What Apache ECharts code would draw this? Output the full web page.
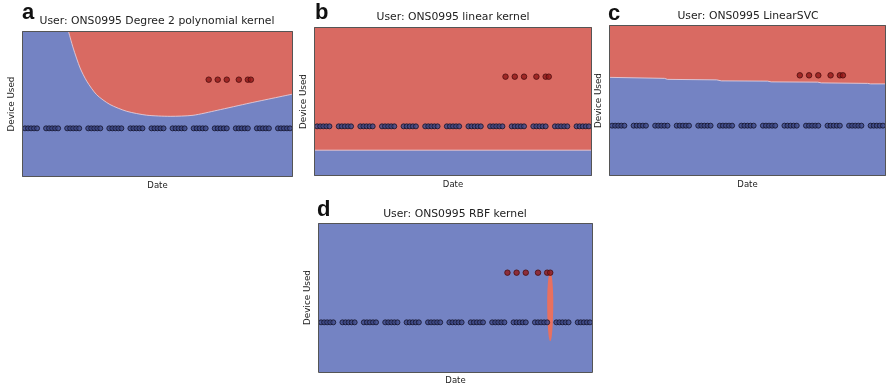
<!DOCTYPE html>
<html>
<head>
<meta charset="utf-8">
<script src="https://cdn.jsdelivr.net/npm/echarts@6/dist/echarts.min.js"></script>
<style>
  html, body { margin: 0; padding: 0; background: #fff; }
  #chart { width: 886px; height: 386px; }
</style>
</head>
<body>
<div id="chart"></div>
<script>
// x = day index, y = device used (0 = usual device, 1 = other device)
const usualDays = [
  1, 2, 3, 4, 5, 8, 9, 10, 11, 12, 15, 16, 17, 18, 19, 22, 23, 24, 25, 26,
  29, 30, 31, 32, 33, 36, 37, 38, 39, 40, 43, 44, 45, 46, 47, 50, 51, 52, 53, 54,
  57, 58, 59, 60, 61, 64, 65, 66, 67, 68, 71, 72, 73, 74, 75, 78, 79, 80, 81, 82,
  85, 86, 87, 88, 89
];
const otherDays = [62, 65, 68, 72, 75, 76];

// decision boundaries (red region lies above)
const polyBoundary = [
  [15.4, 2], [17, 1.65], [19.3, 1.24], [21.5, 0.97], [24.8, 0.69], [29.2, 0.49],
  [34.8, 0.35], [41.4, 0.27], [49.2, 0.247], [56.8, 0.268], [64.8, 0.37],
  [75.7, 0.52], [90, 0.705]
];
const linearBoundary = [[0, -0.48], [90, -0.48]];
const svcBoundary = [
  [0, 0.96], [18, 0.94], [19, 0.92], [35, 0.91], [36.5, 0.89], [51.5, 0.885],
  [52.7, 0.87], [67.8, 0.865], [69, 0.85], [84, 0.84], [85, 0.83], [90, 0.83]
];
// rbf: [day, yTop, yBottom, halfWidthDays]
const rbfRegion = [[76, 1.0, -0.38, 1.0]];

const letters = ['a', 'b', 'c', 'd'];
const titles = [
  'User: ONS0995 Degree 2 polynomial kernel',
  'User: ONS0995 linear kernel',
  'User: ONS0995 LinearSVC',
  'User: ONS0995 RBF kernel'
];

const BLUE = '#7483c3';
const RED = '#d96a62';

const panels = [
  { left: 22, top: 31, width: 271, height: 146, titleX: 157, titleY: 21, letterX: 22, letterY: 13 },
  { left: 314, top: 27, width: 278, height: 149, titleX: 453, titleY: 17, letterX: 315, letterY: 13 },
  { left: 609, top: 25, width: 277, height: 151, titleX: 748, titleY: 16, letterX: 608, letterY: 14 },
  { left: 318, top: 223, width: 275, height: 150, titleX: 455, titleY: 214, letterX: 317, letterY: 210 }
];
const boundaries = [polyBoundary, linearBoundary, svcBoundary, null];

const usualPts = usualDays.map(d => [d, 0]);
const otherPts = otherDays.map(d => [d, 1]);

const chart = echarts.init(document.getElementById('chart'));

const grid = [], xAxis = [], yAxis = [], series = [], graphic = [];

panels.forEach((p, i) => {
  grid.push({
    left: p.left, top: p.top, width: p.width, height: p.height,
    show: true, backgroundColor: BLUE, borderWidth: 0
  });
  xAxis.push({
    gridIndex: i, type: 'value', min: 0, max: 90,
    name: 'Date', nameLocation: 'middle', nameGap: 4,
    nameTextStyle: { fontFamily: 'DejaVu Sans', fontSize: 8.5, color: '#222', verticalAlign: 'top' },
    axisLine: { show: false }, axisTick: { show: false },
    axisLabel: { show: false }, splitLine: { show: false }
  });
  yAxis.push({
    gridIndex: i, type: 'value', min: -1, max: 2,
    name: 'Device Used', nameLocation: 'middle', nameGap: 6,
    nameTextStyle: { fontFamily: 'DejaVu Sans', fontSize: 8.8, color: '#222' },
    axisLine: { show: false }, axisTick: { show: false },
    axisLabel: { show: false }, splitLine: { show: false }
  });

  if (boundaries[i]) {
    series.push({
      type: 'line', xAxisIndex: i, yAxisIndex: i,
      data: boundaries[i],
      smooth: i === 0 ? 0.25 : false,
      showSymbol: false, silent: true,
      lineStyle: { color: 'rgba(235,215,225,0.8)', width: 1 },
      areaStyle: { color: RED, opacity: 1, origin: 'end' },
      z: 1
    });
  }
  if (i === 3) {
    series.push({
      type: 'custom', xAxisIndex: i, yAxisIndex: i,
      data: rbfRegion, silent: true, z: 1,
      renderItem: function (params, api) {
        const top = api.coord([api.value(0), api.value(1)]);
        const bot = api.coord([api.value(0), api.value(2)]);
        const hw = api.size([api.value(3), 0])[0];
        const cy = (top[1] + bot[1]) / 2 - 5;
        const pts = [];
        for (let k = 0; k <= 40; k++) {
          const t = k / 40 * Math.PI * 2;
          const s = Math.sin(t);
          const ry = s > 0 ? (bot[1] - cy) : (cy - top[1]);
          pts.push([top[0] + hw * Math.cos(t), cy + ry * s]);
        }
        return {
          type: 'polygon', shape: { points: pts },
          style: { fill: '#e8705f' }
        };
      }
    });
  }
  series.push({
    type: 'scatter', xAxisIndex: i, yAxisIndex: i,
    data: usualPts, symbolSize: 5, silent: true, z: 3,
    itemStyle: { color: '#3e4a88', borderColor: '#13132a', borderWidth: 1 }
  });
  series.push({
    type: 'scatter', xAxisIndex: i, yAxisIndex: i,
    data: otherPts, symbolSize: 5.5, silent: true, z: 3,
    itemStyle: { color: '#921818', borderColor: '#4a0c0c', borderWidth: 1 }
  });

  graphic.push({
    type: 'rect', z: 100, silent: true,
    shape: { x: p.left + 0.5, y: p.top + 0.5, width: p.width - 1, height: p.height - 1 },
    style: { fill: 'none', stroke: '#555', lineWidth: 1 }
  });
  graphic.push({
    type: 'text', z: 100, silent: true,
    style: {
      text: titles[i], x: p.titleX, y: p.titleY,
      font: '10.8px "DejaVu Sans"', fill: '#222',
      align: 'center', verticalAlign: 'middle',
      textAlign: 'center', textVerticalAlign: 'middle'
    }
  });
  graphic.push({
    type: 'text', z: 100, silent: true,
    style: {
      text: letters[i], x: p.letterX, y: p.letterY,
      font: 'bold 22px "Liberation Sans"', fill: '#111',
      align: 'left', verticalAlign: 'middle',
      textAlign: 'left', textVerticalAlign: 'middle'
    }
  });
});

chart.setOption({
  animation: false,
  grid, xAxis, yAxis, series, graphic
});
</script>
</body>
</html>
